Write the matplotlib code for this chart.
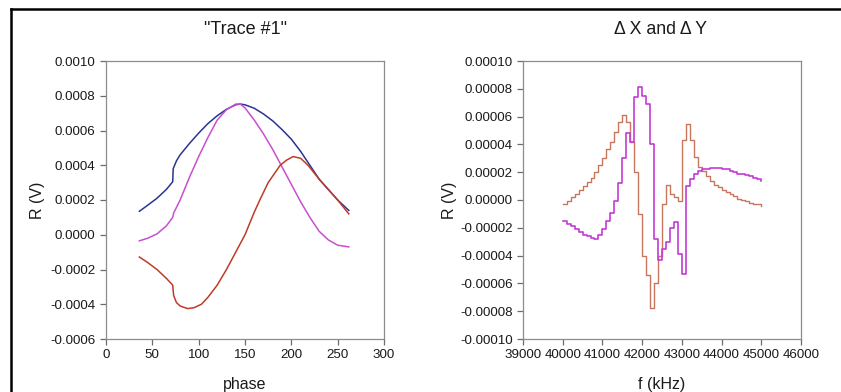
import matplotlib
matplotlib.use("Agg")
import matplotlib.pyplot as plt
from matplotlib.lines import Line2D
from matplotlib.ticker import FormatStrFormatter

plt.rcParams['font.family'] = ['Liberation Sans', 'DejaVu Sans']
plt.rcParams['axes.unicode_minus'] = False

# ---------------- Left panel data: "Trace #1" ----------------
blue_phase = [36, 45, 55, 65, 72, 72.5, 76, 80, 90, 100, 110, 120, 130, 140, 145,
              150, 160, 170, 180, 190, 200, 210, 220, 230, 240, 250, 262]
blue_r = [0.000135, 0.000170, 0.000210, 0.000260, 0.000305, 0.000380, 0.000425, 0.000460,
          0.000525, 0.000585, 0.000640, 0.000685, 0.000722, 0.000748, 0.000752,
          0.000748, 0.000728, 0.000695, 0.000655, 0.000605, 0.000550, 0.000480,
          0.000400, 0.000320, 0.000260, 0.000200, 0.000140]

mag_phase = [36, 45, 55, 65, 72, 73, 80, 90, 100, 110, 120, 130, 140, 145, 150,
             160, 170, 180, 190, 200, 210, 220, 230, 240, 250, 262]
mag_r = [-0.000035, -0.000020, 0.000005, 0.000050, 0.000100, 0.000125, 0.000200,
         0.000330, 0.000450, 0.000560, 0.000660, 0.000720, 0.000752, 0.000752,
         0.000730, 0.000660, 0.000580, 0.000490, 0.000390, 0.000290, 0.000190,
         0.000100, 0.000020, -0.000030, -0.000060, -0.000070]

red_phase = [36, 45, 55, 65, 72, 73, 76, 80, 88, 95, 103, 110, 120, 130, 140, 150,
             160, 166, 175, 188, 195, 202, 210, 218, 230, 250, 262]
red_r = [-0.000128, -0.000160, -0.000200, -0.000250, -0.000290, -0.000350, -0.000390,
         -0.000410, -0.000425, -0.000420, -0.000400, -0.000360, -0.000290, -0.000200,
         -0.000100, 0.000000, 0.000130, 0.000200, 0.000300, 0.000400, 0.000430,
         0.000450, 0.000440, 0.000400, 0.000320, 0.000200, 0.000120]

left_xticks = [0, 50, 100, 150, 200, 250, 300]
left_yticks = [-0.0006, -0.0004, -0.0002, 0.0000, 0.0002, 0.0004, 0.0006, 0.0008, 0.0010]

# ---------------- Right panel data: "ΔX and ΔY" ----------------
freq_khz = [40000, 40100, 40200, 40300, 40400, 40500, 40600, 40700, 40800, 40900,
            41000, 41100, 41200, 41300, 41400, 41500, 41600, 41700, 41800, 41900,
            42000, 42100, 42200, 42300, 42400, 42500, 42600, 42700, 42800, 42900,
            43000, 43100, 43200, 43300, 43400, 43500, 43600, 43700, 43800, 43900,
            44000, 44100, 44200, 44300, 44400, 44500, 44600, 44700, 44800, 44900,
            45000]

dx = [-0.000003, -0.000001, 0.000002, 0.000004, 0.000007, 0.000010, 0.000013, 0.000016,
      0.000020, 0.000025, 0.000030, 0.000037, 0.000042, 0.000049, 0.000056, 0.000061,
      0.000056, 0.000042, 0.000020, -0.000010, -0.000040, -0.000054, -0.000078,
      -0.000060, -0.000040, -0.000003, 0.000011, 0.000004, 0.000002, -0.000001,
      0.000043, 0.000055, 0.000043, 0.000031, 0.000024, 0.000021, 0.000017, 0.000014,
      0.000011, 0.000009, 0.000007, 0.000006, 0.000004, 0.000003, 0.000001, 0.000000,
      -0.000001, -0.000002, -0.000003, -0.000003, -0.000004]

dy = [-0.000015, -0.000017, -0.000019, -0.000021, -0.000023, -0.000025, -0.000026,
      -0.000027, -0.000028, -0.000025, -0.000021, -0.000015, -0.000009, -0.000001,
      0.000012, 0.000030, 0.000048, 0.000042, 0.000074, 0.000081, 0.000075, 0.000069,
      0.000040, -0.000028, -0.000043, -0.000035, -0.000030, -0.000020, -0.000016,
      -0.000039, -0.000053, 0.000010, 0.000015, 0.000019, 0.000021, 0.000022, 0.000022,
      0.000023, 0.000023, 0.000023, 0.000022, 0.000022, 0.000021, 0.000020, 0.000019,
      0.000019, 0.000018, 0.000017, 0.000016, 0.000015, 0.000014]

right_xticks = [39000, 40000, 41000, 42000, 43000, 44000, 45000, 46000]
right_yticks = [-0.00010, -0.00008, -0.00006, -0.00004, -0.00002, 0.0,
                0.00002, 0.00004, 0.00006, 0.00008, 0.00010]

# ---------------- Figure ----------------
W, H = 841, 392
fig = plt.figure(figsize=(W / 100, H / 100), dpi=100)
fig.patch.set_facecolor('white')


def px_axes(l, r, t, b):
    return fig.add_axes([l / W, 1 - b / H, (r - l) / W, (b - t) / H])


ax1 = px_axes(106, 384, 61, 339)
ax2 = px_axes(523, 801, 61, 339)

ax1.plot(blue_phase, blue_r, color='#2b3590', lw=1.1)
ax1.plot(mag_phase, mag_r, color='#c84fd0', lw=1.1)
ax1.plot(red_phase, red_r, color='#c03a2a', lw=1.1)
ax1.set_xlim(0, 300)
ax1.set_ylim(-0.0006, 0.0010)
ax1.set_xticks(left_xticks)
ax1.set_yticks(left_yticks)
ax1.yaxis.set_major_formatter(FormatStrFormatter('%.4f'))

ax2.step(freq_khz, dx, where='post', color='#c8765e', lw=1.0)
ax2.step(freq_khz, dy, where='post', color='#c43bd6', lw=1.2)
ax2.set_xlim(39000, 46000)
ax2.set_ylim(-0.00010, 0.00010)
ax2.set_xticks(right_xticks)
ax2.set_yticks(right_yticks)
ax2.yaxis.set_major_formatter(FormatStrFormatter('%.5f'))

for ax in (ax1, ax2):
    for s in ax.spines.values():
        s.set_color('#8c8c8c')
        s.set_linewidth(0.9)
    ax.tick_params(direction='out', length=4, width=0.9, color='#6c6c6c',
                   labelsize=9.6, labelcolor='#1a1a1a', pad=3.5)

ax1.set_xlabel('phase', fontsize=11.5, color='#1a1a1a', labelpad=11)
ax1.set_ylabel('R (V)', fontsize=11.5, color='#1a1a1a', labelpad=4)
ax2.set_xlabel('f (kHz)', fontsize=11.5, color='#1a1a1a', labelpad=11)
ax2.set_ylabel('R (V)', fontsize=11.5, color='#1a1a1a', labelpad=2)

fig.text(245 / W, 1 - 30 / H, '"Trace #1"', ha='center', va='center',
         fontsize=13, color='#1a1a1a')
fig.text(660 / W, 1 - 30 / H, '\u0394 X and \u0394 Y', ha='center', va='center',
         fontsize=12.8, color='#1a1a1a')

# outer frame (left and top edges visible)
fig.add_artist(Line2D([11 / W, 11 / W], [0, 1 - 9 / H], transform=fig.transFigure,
                      color='black', lw=1.8))
fig.add_artist(Line2D([11 / W, 1], [1 - 9 / H, 1 - 9 / H], transform=fig.transFigure,
                      color='black', lw=1.8))

fig.savefig('out.png', dpi=100, facecolor='white')
